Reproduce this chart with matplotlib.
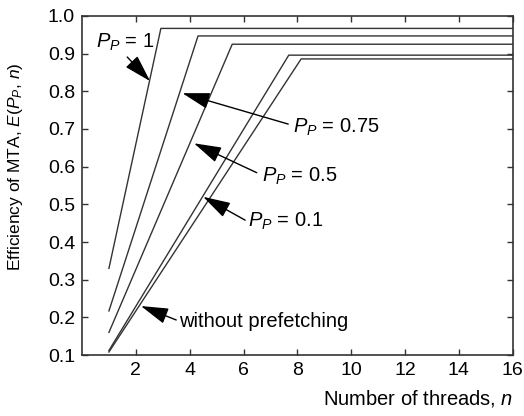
import numpy as np
import matplotlib.pyplot as plt

plt.rcParams['font.family'] = ['Liberation Sans', 'DejaVu Sans']
plt.rcParams['mathtext.fontset'] = 'custom'
plt.rcParams['mathtext.rm'] = 'Liberation Sans'
plt.rcParams['mathtext.it'] = 'Liberation Sans:italic'

# curves: linear rise from n=1 up to saturation, then flat
n_p1 = [1, 2.93, 16]
e_p1 = [0.330, 0.967, 0.967]
n_p075 = [1, 4.31, 16]
e_p075 = [0.217, 0.947, 0.947]
n_p05 = [1, 5.58, 16]
e_p05 = [0.160, 0.925, 0.925]
n_p01 = [1, 7.68, 16]
e_p01 = [0.112, 0.896, 0.896]
n_nopf = [1, 8.14, 16]
e_nopf = [0.108, 0.886, 0.886]

labels = ['$P_P$ = 1', '$P_P$ = 0.75', '$P_P$ = 0.5', '$P_P$ = 0.1', 'without prefetching']
# (text pos, arrow tail, arrow head) in data coords
text_pos = [(0.51, 0.931), (7.85, 0.705), (6.68, 0.573), (6.18, 0.454), (3.60, 0.189)]
tails = [(1.68, 0.891), (7.66, 0.713), (6.49, 0.584), (6.06, 0.458), (3.50, 0.193)]
heads = [(2.53, 0.827), (3.73, 0.795), (4.16, 0.662), (4.50, 0.520), (2.19, 0.230)]

fs = 14.5

fig = plt.figure(figsize=(5.24, 4.16), dpi=100)
ax = fig.add_axes([0.1565, 0.1466, 0.822, 0.815])

for nn, ee in [(n_p1, e_p1), (n_p075, e_p075), (n_p05, e_p05), (n_p01, e_p01), (n_nopf, e_nopf)]:
    ax.plot(nn, ee, color='#333333', lw=1.0)

for lab, tp, tl, hd in zip(labels, text_pos, tails, heads):
    ax.annotate('', xy=hd, xytext=tl,
                arrowprops=dict(arrowstyle='-|>,head_length=0.85,head_width=0.25',
                                color='black', lw=1.0,
                                mutation_scale=20, shrinkA=0, shrinkB=0))
    ax.text(tp[0], tp[1], lab, fontsize=fs, ha='left', va='center')

ax.set_xlim(0, 16)
ax.set_ylim(0.1, 1.0)
ax.set_xticks([2, 4, 6, 8, 10, 12, 14, 16])
ax.set_yticks(np.arange(0.1, 1.01, 0.1))
ax.set_yticklabels(['%.1f' % v for v in np.arange(0.1, 1.01, 0.1)])
ax.tick_params(direction='in', top=True, right=True, length=4, labelsize=14,
               width=1, color='#333333', pad=5)
for s in ax.spines.values():
    s.set_linewidth(1.2)
    s.set_color('#333333')

ax.set_ylabel('Efficiency of MTA, $E$($P_P$, $n$)', fontsize=12.5)
ax.set_xlabel('Number of threads, $n$', fontsize=fs, loc='right')
ax.yaxis.set_label_coords(-0.132, 0.555)
ax.xaxis.set_label_coords(1.0, -0.098)

fig.savefig('out.png', dpi=100)
